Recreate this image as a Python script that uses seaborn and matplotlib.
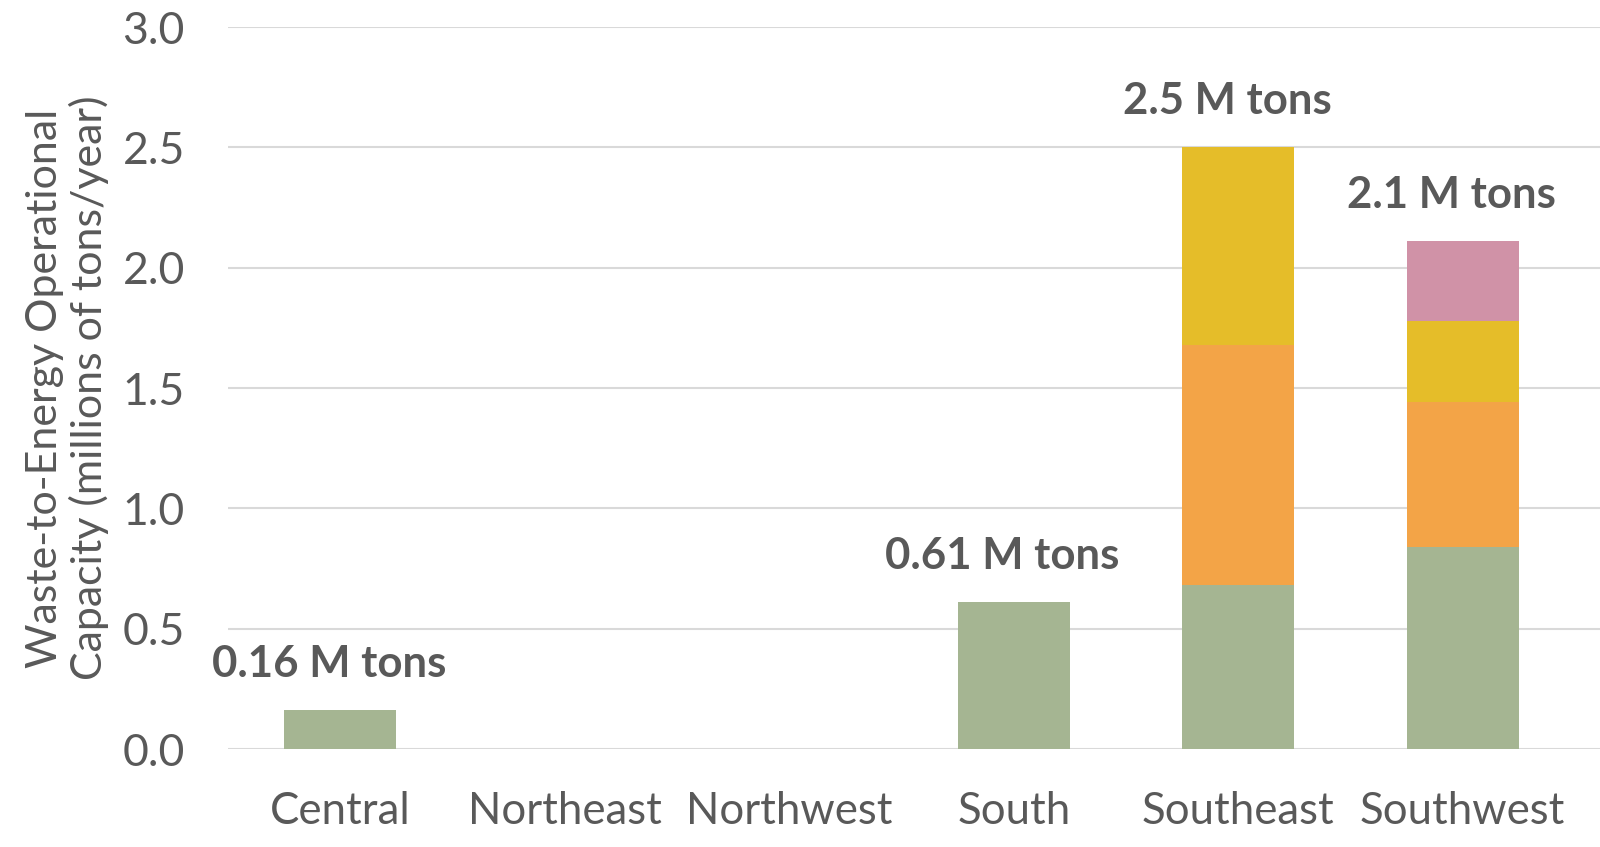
import numpy as np
import pandas as pd
import matplotlib
matplotlib.use("Agg")
import matplotlib.pyplot as plt
import seaborn as sns

regions = ["Central", "Northeast", "Northwest", "South", "Southeast", "Southwest"]
series_names = ["Series 1", "Series 2", "Series 3", "Series 4"]
s1 = [0.16, 0.0, 0.0, 0.61, 0.68, 0.84]
s2 = [0.0, 0.0, 0.0, 0.0, 1.00, 0.60]
s3 = [0.0, 0.0, 0.0, 0.0, 0.82, 0.34]
s4 = [0.0, 0.0, 0.0, 0.0, 0.0, 0.33]
total_labels = ["0.16 M tons", "", "", "0.61 M tons", "2.5 M tons", "2.1 M tons"]
colors = ["#A5B592", "#F3A447", "#E5BD29", "#D092A7"]

sns.set_theme(style="white")
plt.rcParams["font.family"] = ["Lato", "DejaVu Sans"]

fig = plt.figure(figsize=(16, 8.47), dpi=100)
ax = fig.add_axes([228 / 1600, 1 - 749 / 847, (1600 - 228) / 1600, (749 - 27) / 847])

series = [s1, s2, s3, s4]
cum = np.cumsum(np.array(series), axis=0)
for i in range(len(series) - 1, -1, -1):
    df = pd.DataFrame({"region": regions, "value": cum[i]})
    sns.barplot(data=df, x="region", y="value", color=colors[i], width=0.5,
                saturation=1, linewidth=0, ax=ax, zorder=3)

totals = cum[-1]
for xi, (t, lab) in enumerate(zip(totals, total_labels)):
    if lab:
        ax.text(xi - 0.05, t + 0.14, lab, ha="center", va="baseline", fontsize=31.5,
                fontweight="bold", color="#595959")

ax.set_ylim(0, 3.0)
ax.set_xlim(-0.5, 5.5 + 25 / 224.5)
ax.set_yticks(np.arange(0, 3.01, 0.5))
ax.set_yticklabels([f"{v:.1f}" for v in np.arange(0, 3.01, 0.5)])
ax.yaxis.grid(True, color="#D9D9D9", linewidth=1.5, zorder=0)
ax.set_axisbelow(True)
for sp in ax.spines.values():
    sp.set_visible(False)
ax.tick_params(axis="y", labelsize=32, colors="#595959", length=0, pad=31)
ax.tick_params(axis="x", labelsize=31.5, colors="#595959", length=0, pad=30)
ax.set_xlabel("")
ax.set_ylabel("Waste-to-Energy Operational\nCapacity (millions of tons/year)",
              fontsize=31, color="#595959", labelpad=10, linespacing=1.15)

fig.savefig("out.png", dpi=100, facecolor="white")
